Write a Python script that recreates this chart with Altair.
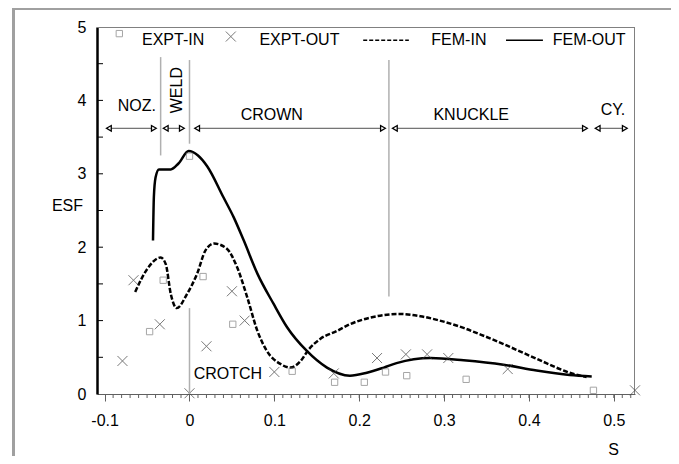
import altair as alt
import pandas as pd

FONT = "Liberation Sans"

# ---------------- data ----------------
fem_out_s = [-0.043, -0.042, -0.040, -0.036, -0.022, -0.013, -0.001, 0.010, 0.021, 0.040,
             0.052, 0.064, 0.080, 0.099, 0.115, 0.138, 0.162, 0.189, 0.209, 0.229,
             0.244, 0.284, 0.323, 0.370, 0.409, 0.448, 0.474]
fem_out_esf = [2.09, 2.68, 2.95, 3.06, 3.06, 3.14, 3.31, 3.25, 3.10, 2.68,
               2.41, 2.09, 1.64, 1.23, 0.91, 0.59, 0.36, 0.25, 0.29, 0.36,
               0.42, 0.49, 0.46, 0.40, 0.32, 0.26, 0.24]

fem_in_s = [-0.064, -0.050, -0.034, -0.028, -0.022, -0.015, -0.003, 0.009, 0.019, 0.029,
            0.044, 0.056, 0.068, 0.080, 0.091, 0.107, 0.119, 0.131, 0.140, 0.154,
            0.174, 0.189, 0.213, 0.248, 0.272, 0.295, 0.323, 0.343, 0.370, 0.409,
            0.448, 0.468]
fem_in_esf = [1.39, 1.70, 1.86, 1.77, 1.36, 1.17, 1.36, 1.64, 1.96, 2.05,
              1.98, 1.73, 1.32, 0.86, 0.59, 0.41, 0.36, 0.45, 0.60, 0.75,
              0.86, 0.95, 1.04, 1.09, 1.06, 1.00, 0.90, 0.81, 0.68, 0.48,
              0.29, 0.23]

expt_in_s = [0.0, -0.031, 0.016, -0.047, 0.051, 0.121, 0.171, 0.206, 0.231, 0.256, 0.326, 0.476]
expt_in_esf = [3.24, 1.55, 1.60, 0.85, 0.95, 0.31, 0.16, 0.16, 0.30, 0.25, 0.20, 0.05]

expt_out_s = [-0.079, -0.066, -0.035, 0.0, 0.020, 0.050, 0.065, 0.100, 0.170, 0.221,
              0.255, 0.280, 0.305, 0.375, 0.525]
expt_out_esf = [0.45, 1.55, 0.95, 0.01, 0.65, 1.40, 1.00, 0.30, 0.28, 0.49,
                0.54, 0.54, 0.49, 0.34, 0.05]

x_major = [-0.1, 0, 0.1, 0.2, 0.3, 0.4, 0.5]
x_minor = [round(-0.09 + 0.01 * i, 2) for i in range(62)]
y_major = [0, 1, 2, 3, 4, 5]
y_minor = [0.5, 1, 1.5, 2, 2.5, 3, 3.5, 4, 4.5]

# region annotations
sep_s = [-0.034, 0.0, 0.235, 0.0]
sep_top = [4.59, 4.55, 4.55, 1.17]
sep_bot = [3.25, 3.41, 1.33, 0.0]

arrow_left = [-0.095, -0.028, 0.009, 0.242, 0.481]
arrow_right = [-0.042, -0.009, 0.228, 0.466, 0.513]
arrow_y = 3.62

region_labels = ["NOZ.", "CROWN", "KNUCKLE", "CY."]
region_s = [-0.062, 0.097, 0.332, 0.499]
region_y = [3.93, 3.80, 3.80, 3.87]
weld_label, weld_s, weld_y = "WELD", -0.015, 4.14
crotch_label, crotch_s, crotch_y = "CROTCH", 0.005, 0.27

# legend (drawn inside the plot, top row)
leg_labels = ["EXPT-IN", "EXPT-OUT", "FEM-IN", "FEM-OUT"]
leg_text_s = [-0.056, 0.0824, 0.285, 0.428]
leg_text_y = 4.82
leg_sq = (-0.0827, 4.91)
leg_x = (0.0487, 4.87)
leg_dash = (0.2047, 0.2585, 4.82)
leg_solid = (0.373, 0.4165, 4.82)

W, H = 538, 367
PAD = {"left": 89, "top": 19, "right": 36, "bottom": 62}

xs = alt.Scale(domain=[-0.109, 0.525], nice=False, zero=False)
ys = alt.Scale(domain=[0, 5], nice=False, zero=False)

XMARK = "M-1,-1L1,1M1,-1L-1,1"

# ---------------- layers ----------------
df_out = pd.DataFrame({"s": fem_out_s, "esf": fem_out_esf})
df_in = pd.DataFrame({"s": fem_in_s, "esf": fem_in_esf})
df_ein = pd.DataFrame({"s": expt_in_s, "esf": expt_in_esf})
df_eout = pd.DataFrame({"s": expt_out_s, "esf": expt_out_esf})

x_main_axis = alt.Axis(
    orient="bottom", values=x_major, grid=False,
    labelExpr="datum.value < 0 ? '-' + format(-datum.value, '.1~f') : format(datum.value, '.1~f')",
    labelFont=FONT, labelFontSize=16, labelColor="black", labelPadding=11,
    tickSize=7, tickColor="#606060", tickWidth=1,
    domainColor="#606060", domainWidth=1,
    title="S", titleFont=FONT, titleFontSize=16, titleFontWeight="normal",
    titleColor="black", titleX=516, titleY=55, titleAlign="center", titleBaseline="middle",
)
y_main_axis = alt.Axis(
    orient="left", values=y_major, grid=False, format="d",
    labelFont=FONT, labelFontSize=16, labelColor="black", labelPadding=11,
    ticks=False, domainColor="black", domainWidth=2.5,
    title="ESF", titleFont=FONT, titleFontSize=16, titleFontWeight="normal",
    titleColor="black", titleAngle=0, titleX=-30, titleY=178,
    titleAlign="center", titleBaseline="middle",
)


def nx():
    return alt.X("s:Q", scale=xs)


def ny():
    return alt.Y("esf:Q", scale=ys)


# plot-area frame (top and right edges, gray)
frame_top_in = alt.Chart(pd.DataFrame({"k": [0]})).mark_rule(color="#808080", strokeWidth=1).encode(
    x=alt.value(0), x2=alt.value(W), y=alt.value(0.5)
)
frame_right_in = alt.Chart(pd.DataFrame({"k": [0]})).mark_rule(color="#808080", strokeWidth=1).encode(
    x=alt.value(W - 0.5), y=alt.value(0), y2=alt.value(H)
)

# minor ticks on both axes
df_xm = pd.DataFrame({"s": x_minor})
x_minor_ticks = alt.Chart(df_xm).mark_rule(color="#606060", strokeWidth=1).encode(
    x=nx(), y=alt.value(H), y2=alt.value(H + 4)
)
df_ym = pd.DataFrame({"esf": y_minor})
y_minor_ticks = alt.Chart(df_ym).mark_rule(color="black", strokeWidth=1).encode(
    y=ny(), x=alt.value(0), x2=alt.value(6)
)

fem_out = alt.Chart(df_out).mark_line(
    color="black", strokeWidth=2.5, interpolate="monotone"
).encode(
    x=alt.X("s:Q", scale=xs, axis=x_main_axis),
    y=alt.Y("esf:Q", scale=ys, axis=y_main_axis),
)

fem_in = alt.Chart(df_in).mark_line(
    color="black", strokeWidth=2.5, strokeDash=[5, 2], interpolate="monotone"
).encode(x=nx(), y=ny())

ein = alt.Chart(df_ein).mark_point(
    shape="square", filled=False, color="#808080", strokeWidth=1, size=40
).encode(x=nx(), y=ny())

eout = alt.Chart(df_eout).mark_point(
    shape=XMARK, filled=False, color="#404040", strokeWidth=1, size=100
).encode(x=nx(), y=ny())

# separators
df_sep = pd.DataFrame({"s": sep_s, "esf": sep_top, "esf2": sep_bot})
seps = alt.Chart(df_sep).mark_rule(color="#b0b0b0", strokeWidth=1.5).encode(
    x=nx(), y=ny(), y2="esf2:Q"
)

# arrows
df_arr = pd.DataFrame({"s": arrow_left, "s2": arrow_right, "esf": [arrow_y] * len(arrow_left)})
arr_lines = alt.Chart(df_arr).mark_rule(color="#505050", strokeWidth=1).encode(
    x=nx(), x2="s2:Q", y=ny()
)
df_al = pd.DataFrame({"s": arrow_left, "esf": [arrow_y] * len(arrow_left)})
df_ar = pd.DataFrame({"s": arrow_right, "esf": [arrow_y] * len(arrow_right)})
arr_l = alt.Chart(df_al).mark_point(
    shape="triangle-left", filled=True, fill="white", stroke="black", strokeWidth=1.3, size=30, opacity=1
).encode(x=nx(), y=ny())
arr_r = alt.Chart(df_ar).mark_point(
    shape="triangle-right", filled=True, fill="white", stroke="black", strokeWidth=1.3, size=30, opacity=1
).encode(x=nx(), y=ny())

# region labels
df_rl = pd.DataFrame({"s": region_s, "esf": region_y, "t": region_labels})
rlabels = alt.Chart(df_rl).mark_text(
    font=FONT, fontSize=16, color="black", align="center", baseline="middle"
).encode(x=nx(), y=ny(), text="t:N")
df_weld = pd.DataFrame({"s": [weld_s], "esf": [weld_y], "t": [weld_label]})
weld = alt.Chart(df_weld).mark_text(
    font=FONT, fontSize=16, color="black", align="center", baseline="middle", angle=270
).encode(x=nx(), y=ny(), text="t:N")
df_cr = pd.DataFrame({"s": [crotch_s], "esf": [crotch_y], "t": [crotch_label]})
crotch = alt.Chart(df_cr).mark_text(
    font=FONT, fontSize=16, color="black", align="left", baseline="middle"
).encode(x=nx(), y=ny(), text="t:N")

# legend
df_lt = pd.DataFrame({"s": leg_text_s, "esf": [leg_text_y] * 4, "t": leg_labels})
leg_text = alt.Chart(df_lt).mark_text(
    font=FONT, fontSize=16, color="black", align="left", baseline="middle"
).encode(x=nx(), y=ny(), text="t:N")
leg_sq_m = alt.Chart(pd.DataFrame({"s": [leg_sq[0]], "esf": [leg_sq[1]]})).mark_point(
    shape="square", filled=False, color="#808080", strokeWidth=1, size=40
).encode(x=nx(), y=ny())
leg_x_m = alt.Chart(pd.DataFrame({"s": [leg_x[0]], "esf": [leg_x[1]]})).mark_point(
    shape=XMARK, filled=False, color="#404040", strokeWidth=1, size=100
).encode(x=nx(), y=ny())
leg_dash_m = alt.Chart(pd.DataFrame({"s": [leg_dash[0]], "s2": [leg_dash[1]], "esf": [leg_dash[2]]})).mark_rule(
    color="black", strokeWidth=1.5, strokeDash=[4, 2]
).encode(x=nx(), x2="s2:Q", y=ny())
leg_solid_m = alt.Chart(pd.DataFrame({"s": [leg_solid[0]], "s2": [leg_solid[1]], "esf": [leg_solid[2]]})).mark_rule(
    color="black", strokeWidth=1.5
).encode(x=nx(), x2="s2:Q", y=ny())

# outer chart-area border (decoration, left and top edges)
frame_left = alt.Chart(pd.DataFrame({"k": [0]})).mark_rule(color="#a0a0a0", strokeWidth=3).encode(
    x=alt.value(-83.5), y=alt.value(-19), y2=alt.value(H + PAD["bottom"])
)
frame_top = alt.Chart(pd.DataFrame({"k": [0]})).mark_rule(color="#a0a0a0", strokeWidth=3).encode(
    x=alt.value(-85), x2=alt.value(W + PAD["right"]), y=alt.value(-18.5)
)

chart = alt.layer(
    fem_out, frame_top_in, frame_right_in, x_minor_ticks, y_minor_ticks,
    fem_in, ein, eout, seps, arr_lines, arr_l, arr_r, rlabels, weld, crotch,
    leg_text, leg_sq_m, leg_x_m, leg_dash_m, leg_solid_m,
    frame_left, frame_top,
).properties(
    width=W, height=H,
    autosize=alt.AutoSizeParams(type="none"),
    padding=PAD,
    background="white",
).configure_view(
    stroke="transparent", strokeWidth=0
)

chart.save("out.html", embed_options={"renderer": "svg", "actions": False})
